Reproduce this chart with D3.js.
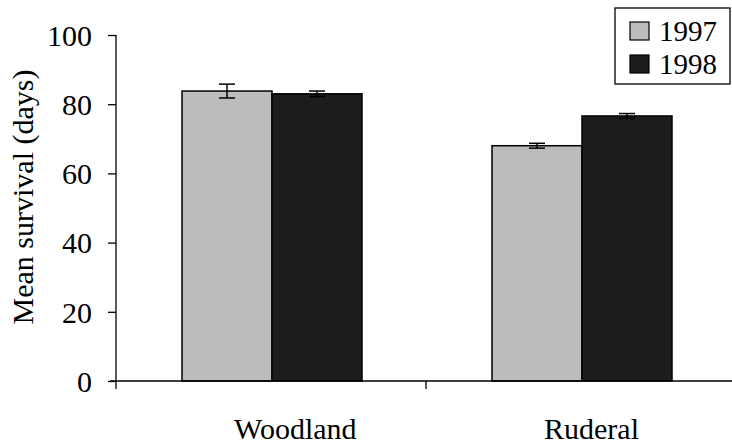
<!DOCTYPE html>
<html><head><meta charset="utf-8">
<script src="https://cdn.jsdelivr.net/npm/d3@7"></script>
<style>body{margin:0;background:#fff}svg{display:block}</style>
</head><body>
<script>
const categories = ["Woodland", "Ruderal"];
const series = ["1997", "1998"];
const values1997 = [83.8, 68.0];
const values1998 = [83.0, 76.6];
const err1997 = [2.0, 0.7];
const err1998 = [0.8, 0.7];
const yTicks = [0, 20, 40, 60, 80, 100];

const W = 732, H = 445;
const svg = d3.select("body").append("svg").attr("width", W).attr("height", H);
const font = "Liberation Serif, Times New Roman, serif";

const x0 = d3.scaleBand().domain(categories).range([116, 736]).paddingInner(0).paddingOuter(0);
const x1 = d3.scaleBand().domain(series).range([0, 180]);
const y = d3.scaleLinear().domain([0, 100]).range([381, 35]);

const fills = {"1997": "#bcbcbc", "1998": "#1c1c1c"};
const data = categories.map((c, i) => ({cat: c, vals: [
  {s: "1997", v: values1997[i], e: err1997[i]},
  {s: "1998", v: values1998[i], e: err1998[i]}]}));

// bars
const g = svg.selectAll("g.cat").data(data).join("g")
  .attr("transform", d => `translate(${x0(d.cat) + (x0.bandwidth() - 180) / 2 + 1},0)`);
g.selectAll("rect").data(d => d.vals).join("rect")
  .attr("x", d => x1(d.s)).attr("y", d => y(d.v))
  .attr("width", x1.bandwidth()).attr("height", d => y(0) - y(d.v))
  .attr("fill", d => fills[d.s]).attr("stroke", "#000").attr("stroke-width", 1.5);
// error bars
g.selectAll("g.err").data(d => d.vals).join("g").each(function(d) {
  const cx = x1(d.s) + x1.bandwidth() / 2;
  const el = d3.select(this);
  el.append("line").attr("x1", cx).attr("x2", cx).attr("y1", y(d.v + d.e)).attr("y2", y(d.v - d.e)).attr("stroke", "#000").attr("stroke-width", 1.5);
  [d.v + d.e, d.v - d.e].forEach(v => el.append("line").attr("x1", cx - 8).attr("x2", cx + 8).attr("y1", y(v)).attr("y2", y(v)).attr("stroke", "#000").attr("stroke-width", 1.5));
});

// y axis
const yAxis = svg.append("g").attr("transform", "translate(116,0)")
  .call(d3.axisLeft(y).tickValues(yTicks).tickSize(8).tickPadding(16));
yAxis.select(".domain").attr("stroke", "#000").attr("stroke-width", 1.3).attr("d", "M0,35V381");
yAxis.selectAll("text").attr("font-family", font).attr("font-size", 30).attr("fill", "#000").attr("dy", "0.34em");
yAxis.selectAll("line").attr("stroke-width", 1.3);

// x axis
svg.append("line").attr("x1", 110).attr("x2", 732).attr("y1", y(0)).attr("y2", y(0)).attr("stroke", "#000").attr("stroke-width", 1.3);
[116, x0("Ruderal")].forEach(xx => svg.append("line").attr("x1", xx).attr("x2", xx).attr("y1", y(0)).attr("y2", y(0) + 8).attr("stroke", "#000").attr("stroke-width", 1.3));
svg.selectAll("text.cat").data(categories).join("text")
  .attr("x", d => x0(d) + 118).attr("y", 439)
  .attr("text-anchor", "start").attr("font-family", font).attr("font-size", 30).text(d => d);

// y title
svg.append("text").attr("transform", "translate(33,197) rotate(-90)")
  .attr("text-anchor", "middle").attr("font-family", font).attr("font-size", 30).text("Mean survival (days)");

// legend
const lg = svg.append("g");
lg.append("rect").attr("x", 615).attr("y", 8).attr("width", 115).attr("height", 76).attr("fill", "#fff").attr("stroke", "#000").attr("stroke-width", 1.3);
series.forEach((s, i) => {
  lg.append("rect").attr("x", 630).attr("y", 22 + i * 33).attr("width", 19).attr("height", 18).attr("fill", fills[s]).attr("stroke", "#000").attr("stroke-width", 1.2);
  lg.append("text").attr("x", 659).attr("y", 41 + i * 33).attr("font-family", font).attr("font-size", 29).text(s);
});
</script>
</body></html>
